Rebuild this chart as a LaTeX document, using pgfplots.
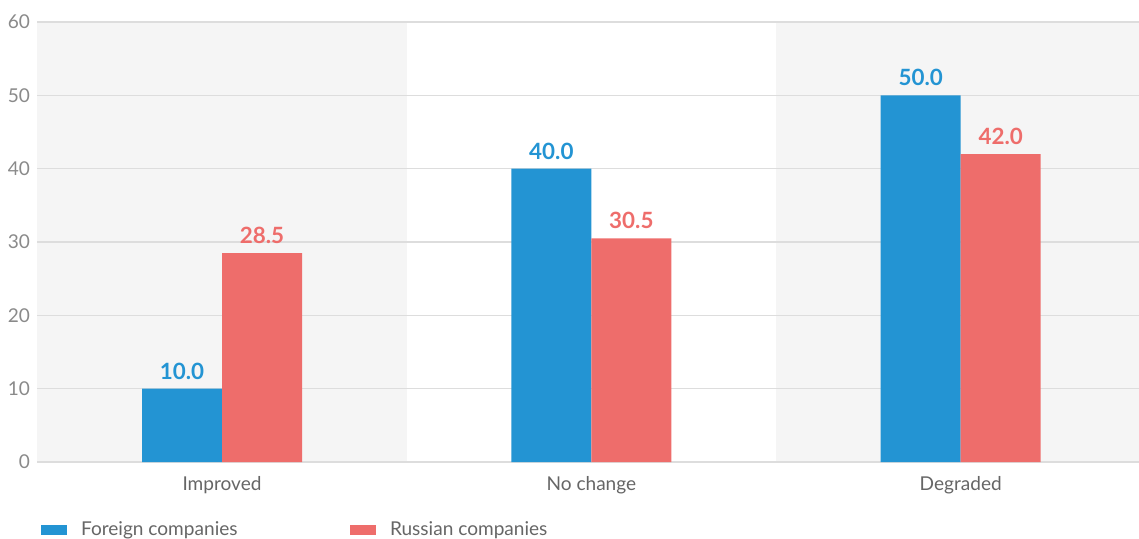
\documentclass[border=0pt]{standalone}
\usepackage{pgfplots}
\pgfplotsset{compat=1.18}
\usepackage{fontspec}
\setmainfont{Lato}
\definecolor{cblue}{HTML}{2394D3}
\definecolor{cred}{HTML}{EE6D6B}
\definecolor{bandgray}{HTML}{F5F5F5}
\definecolor{gridgray}{HTML}{DDDDDD}
\definecolor{ticktext}{HTML}{8A8A8A}
\definecolor{labtext}{HTML}{666666}
\pgfplotsset{set layers}
\begin{document}
\begin{tikzpicture}
\begin{axis}[
  scale only axis,
  width=831pt, height=330pt,
  xmin=-0.5, xmax=2.5,
  ymin=0, ymax=60,
  ytick={0,10,...,60},
  xtick={0,1,2},
  xticklabels={Improved,No change,Degraded},
  ymajorgrids,
  grid style={gridgray, line width=0.9pt},
  axis line style={draw=none},
  major tick length=0pt,
  /pgf/number format/assume math mode=true,
  yticklabel style={font=\fontsize{14.3pt}{16pt}\selectfont, text=ticktext, xshift=-2pt},
  xticklabel style={font=\fontsize{14.3pt}{16pt}\selectfont, text=labtext, yshift=-7pt},
  ybar,
  bar width=0.2166,
  nodes near coords,
  nodes near coords style={font=\bfseries\fontsize{16.8pt}{18pt}\selectfont, anchor=south, yshift=3.5pt,
    /pgf/number format/fixed, /pgf/number format/fixed zerofill, /pgf/number format/precision=1},
  legend style={at={(rel axis cs:0,0)}, anchor=west, xshift=2.3pt, yshift=-51pt,
    draw=none, fill=none, inner sep=0pt,
    font=\fontsize{14.3pt}{16pt}\selectfont, text=labtext,
    legend columns=2,
    /tikz/every even column/.append style={column sep=82pt}},
  legend image code/.code={\fill[#1] (2.7pt,-4pt) rectangle (22.2pt,4pt); \path (31pt,0pt);},
]
\begin{pgfonlayer}{axis background}
\fill[bandgray] (axis cs:-0.5,0) rectangle (axis cs:0.5,60);
\fill[bandgray] (axis cs:1.5,0) rectangle (axis cs:2.5,60);
\end{pgfonlayer}
\addplot[fill=cblue, draw=none, bar shift=-0.1083, nodes near coords style={text=cblue}]
  coordinates {(0,10.0) (1,40.0) (2,50.0)};
\addlegendentry{Foreign companies}
\addplot[fill=cred, draw=none, bar shift=0.1083, nodes near coords style={text=cred}]
  coordinates {(0,28.5) (1,30.5) (2,42.0)};
\addlegendentry{Russian companies}
\end{axis}
\pgfresetboundingbox
\path[use as bounding box] ([shift={(-28pt,-57pt)}]current axis.south west) rectangle ([shift={(826.2pt,16.5pt)}]current axis.south west |- current axis.north west);
\end{tikzpicture}
\end{document}
